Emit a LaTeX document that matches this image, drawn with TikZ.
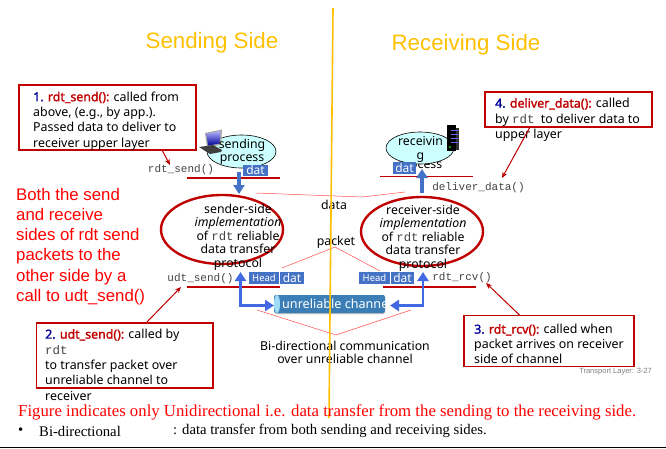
\documentclass[tikz,border=0pt]{standalone}
\usepackage{fontspec}
\setmainfont{Noto Sans}
\newfontfamily\nbold{Noto Sans}[FakeBold=1.6]
\newfontfamily\arialf{Liberation Sans}
\newfontfamily\timesf{Liberation Serif}
\newfontfamily\courf{Liberation Mono}
\usetikzlibrary{arrows.meta,shapes.geometric}
\definecolor{boxred}{HTML}{C00000}
\definecolor{numblue}{HTML}{000099}
\definecolor{linkblue}{HTML}{4169E1}
\definecolor{datblue}{HTML}{4472C4}
\definecolor{titleor}{HTML}{FFC000}
\definecolor{procfill}{HTML}{CCFFFF}
\definecolor{monogray}{HTML}{444444}
\definecolor{chtop}{HTML}{3C7FB8}
\definecolor{chmid}{HTML}{7CBDE8}
\definecolor{chbot}{HTML}{3A7DB5}
\definecolor{chcap}{HTML}{A0DCF5}
\newcommand{\mono}[1]{{\courf\color{monogray}#1}}
\newcommand{\bnum}[1]{{\nbold\color{numblue}#1}}
\newcommand{\bname}[1]{{\nbold\color{boxred}#1}}
\tikzset{
  x=1pt,y=-1pt,
  callout/.style={draw=boxred,line width=1.4pt,fill=white,inner sep=0pt},
  body/.style={font=\fontsize{12.4}{15.4}\selectfont,anchor=north west,align=left,inner sep=0pt},
  proto/.style={font=\fontsize{12.3}{13.6}\selectfont,align=center,inner sep=0pt,text=black},
  fn/.style={font=\courf\fontsize{11}{12}\selectfont,text=monogray,inner sep=0pt},
  datbox/.style={fill=datblue,text=white,inner sep=0pt,font=\fontsize{12}{12}\selectfont},
  headbox/.style={fill=datblue,text=white,inner sep=0pt,font=\fontsize{9.5}{9.5}\selectfont},
  baseline rule/.style={draw=boxred,line width=1.6pt},
  redthin/.style={draw=red!70,line width=0.5pt},
  pointer/.style={draw=boxred,line width=1pt,-{Stealth[length=6pt,width=5pt]}},
  bluearrow/.style={draw=datblue,line width=3.4pt,-{Triangle[length=9pt,width=11pt]}},
  elbow/.style={draw=linkblue,line width=2.6pt,{Triangle[length=9pt,width=11pt]}-{Triangle[length=9pt,width=11pt]}},
  protoell/.style={draw=boxred,line width=2.4pt},
  procell/.style={draw=black,fill=procfill,line width=0.6pt},
}
\begin{document}
\begin{tikzpicture}
\useasboundingbox (0,0) rectangle (666,448);
\fill[white] (0,0) rectangle (666,448);
\draw[black,line width=1pt] (0,447.5) -- (666,447.5);
% titles
\node[text=titleor,font=\arialf\fontsize{22.3}{24}\selectfont,inner sep=0pt] (t1) at (212,43) {Sending Side};
\node[text=titleor,font=\arialf\fontsize{22.3}{24}\selectfont,inner sep=0pt] (t2) at (466,45) {Receiving Side};
% thin red guide lines
\coordinate (dl) at (256,193); \coordinate (dm) at (362,197); \coordinate (dr) at (405,192);
\draw[redthin] (dl) -- (dm) -- (dr);
\coordinate (pl) at (282,268); \coordinate (pm) at (335,247); \coordinate (pr) at (380,271);
\draw[redthin] (pl) -- (pm) -- (pr);
\coordinate (cl) at (257,310); \coordinate (cm) at (336,335); \coordinate (cr) at (411,310);
\draw[redthin] (cl) -- (cm) -- (cr);
% sending process
\node[procell,ellipse,minimum width=69pt,minimum height=33pt,inner sep=0pt] (sp) at (241.5,151.5) {};
% laptop
\fill[gray!70] (205,133) -- (222,129.5) -- (221,145) -- (207,147) -- cycle;
\shade[top color=blue!30!white,bottom color=blue!60!black] (206.5,134) -- (220.5,131) -- (219.5,143.5) -- (208,145.5) -- cycle;
\fill[black!75] (199,147) -- (213,145) -- (222,150) -- (221,152) -- (210,154) -- cycle;
\node[proto,font=\fontsize{12.3}{12.5}\selectfont] (spt) at (242,152) {sending\\process};
% receiving process
\node[proto] (rpp) at (420,167) {process};
\node[procell,ellipse,minimum width=68pt,minimum height=32pt,inner sep=0pt] (rp) at (420,148) {};
\node[proto] (rpt) at (420.5,149.5) {receivin\\g};
% server
\fill[black] (447,125) rectangle (456,151);
\fill[black!80] (456,128) rectangle (459,150);
\foreach \yy in {130,134,138,142}{\fill[blue!60!white] (451,\yy) rectangle (458,\yy+1.2);}
\fill[green!60!black] (449,146) rectangle (451,147.5);
% dat boxes top
\node[datbox,minimum width=25pt,minimum height=11pt] (sd) at (255.5,170) {dat};
\node[datbox,minimum width=23pt,minimum height=12pt] (rd) at (404.5,168) {dat};
% rules
\coordinate (r1a) at (187,178); \coordinate (r1b) at (280,178);
\draw[baseline rule] (r1a) -- (r1b);
\coordinate (r2a) at (380,176); \coordinate (r2b) at (473,176);
\draw[draw=boxred,line width=1pt] (r2a) -- (r2b);
\coordinate (r3a) at (187,287); \coordinate (r3b) at (280,287);
\draw[baseline rule] (r3a) -- (r3b);
\coordinate (r4a) at (383,287); \coordinate (r4b) at (476,287);
\draw[baseline rule] (r4a) -- (r4b);
% function labels
\node[fn] (f1) at (181,170) {rdt\_send()};
\node[fn] (f2) at (478.5,188) {deliver\_data()};
\node[fn] (f3) at (200.5,279) {udt\_send()};
\node[fn] (f4) at (462,278) {rdt\_rcv()};
% ellipses
\node[protoell,ellipse,minimum width=122pt,minimum height=69pt,inner sep=0pt] (se) at (222,229.5) {};
\node[protoell,ellipse,minimum width=122pt,minimum height=69pt,inner sep=0pt] (re) at (422,231.5) {};
\node[proto] (st) at (238,237) {sender-side\\\textit{implementation}\\of \mono{rdt} reliable\\data transfer\\protocol};
\node[proto] (rt) at (423,238) {receiver-side\\\textit{implementation}\\of \mono{rdt} reliable\\data transfer\\protocol};
% vertical blue arrows
\coordinate (a1a) at (239,172); \coordinate (a1b) at (239,194);
\draw[bluearrow] (a1a) -- (a1b);
\coordinate (a2a) at (422,193); \coordinate (a2b) at (422,169);
\draw[bluearrow] (a2a) -- (a2b);
% packet boxes
\node[headbox,minimum width=30pt,minimum height=12pt] (h1) at (264,278) {Head};
\node[datbox,minimum width=24pt,minimum height=12pt] (d1) at (292,278) {dat};
\node[headbox,minimum width=31pt,minimum height=12pt] (h2) at (374.5,278) {Head};
\node[datbox,minimum width=23pt,minimum height=12pt] (d2) at (402.5,278) {dat};
% labels
\node[proto] (ld) at (334,205) {data};
\node[proto] (lp) at (336,242) {packet};
\node[proto] (lc) at (345,352.5) {Bi-directional communication\\over unreliable channel};
% channel
\fill[gray!50,rounded corners=2pt] (275,297) rectangle (385,314);
\shade[top color=chtop,middle color=chmid,bottom color=chbot,rounded corners=2pt] (274,295) rectangle (385,313);
\fill[chcap] (277,304) ellipse (3pt and 9pt);
\node[text=white,inner sep=0pt,anchor=west,font=\fontsize{12.6}{14}\selectfont] (ch) at (282,304) {unreliable channe};
% blue elbow arrows
\coordinate (e1t) at (240.5,272); \coordinate (e1c) at (274,305.5);
\draw[elbow] (e1t) |- (e1c);
\coordinate (e2t) at (423,272); \coordinate (e2c) at (390,305.5);
\draw[elbow] (e2t) |- (e2c);
% callouts
\node[callout,minimum width=177pt,minimum height=65pt] (b1) at (107.5,117.5) {};
\node[body] (b1t) at (33,91.5) {\bnum{1.} \bname{rdt\_send():} called from\\above, (e.g., by app.).\\Passed data to deliver to\\receiver upper layer};
\node[callout,minimum width=167pt,minimum height=35pt] (b4) at (568.5,109.5) {};
\node[body] (b4t) at (495,98) {\bnum{4.} \bname{deliver\_data():} called\\by \mono{rdt}\ \ to deliver data to\\upper layer};
\node[callout,minimum width=176.5pt,minimum height=65pt] (b2) at (124.75,355.5) {};
\node[body] (b2t) at (45,329) {\bnum{2.} \bname{udt\_send():} called by\\\mono{rdt}\\to transfer packet over\\unreliable channel to\\receiver};
\node[callout,minimum width=170pt,minimum height=51pt] (b3) at (549,341) {};
\node[body,font=\fontsize{12.4}{15}\selectfont] (b3t) at (474,324) {\bnum{3.} \bname{rdt\_rcv():} called when\\packet arrives on receiver\\side of channel};
% pointers
\coordinate (s1) at (162,150); \coordinate (p1) at (170,165); \draw[pointer] (s1) -- (p1);
\coordinate (s2) at (146,323); \coordinate (p2) at (181,287); \draw[pointer] (s2) -- (p2);
\coordinate (s3) at (520,315.5); \coordinate (p3) at (486,283); \draw[pointer] (s3) -- (p3);
\coordinate (s4) at (530,127); \coordinate (p4) at (502,178); \draw[pointer] (s4) -- (p4);
% side text
\node[text=red,anchor=north west,align=left,inner sep=0pt,font=\arialf\fontsize{16.8}{20.2}\selectfont] (side) at (16,188) {Both the send\\and receive\\sides of rdt send\\packets to the\\other side by a\\call to udt\_send()};
\node[text=gray,anchor=east,inner sep=0pt,font=\arialf\fontsize{7.5}{8}\selectfont] (tl) at (652,371.5) {Transport Layer: 3-27};
% centre line
\coordinate (ya) at (333,8); \coordinate (yb) at (329,418);
\draw[draw=titleor,line width=1.6pt] (ya) -- (yb);
% bottom text
\node[text=red,anchor=west,inner sep=0pt,font=\timesf\fontsize{16.77}{18}\selectfont] (n1) at (18,412) {Figure indicates only Unidirectional i.e. data transfer from the sending to the receiving side.};
\node[anchor=west,inner sep=0pt,font=\timesf\fontsize{14.7}{15}\selectfont] (n2) at (18,431) {•};
\node[anchor=west,inner sep=0pt,font=\timesf\fontsize{14.7}{15}\selectfont] (n3) at (39,431) {Bi-directional};
\node[anchor=west,inner sep=0pt,font=\timesf\fontsize{14.7}{15}\selectfont] (n4) at (173,431) {: data transfer from both sending and receiving sides.};
\end{tikzpicture}
\end{document}
